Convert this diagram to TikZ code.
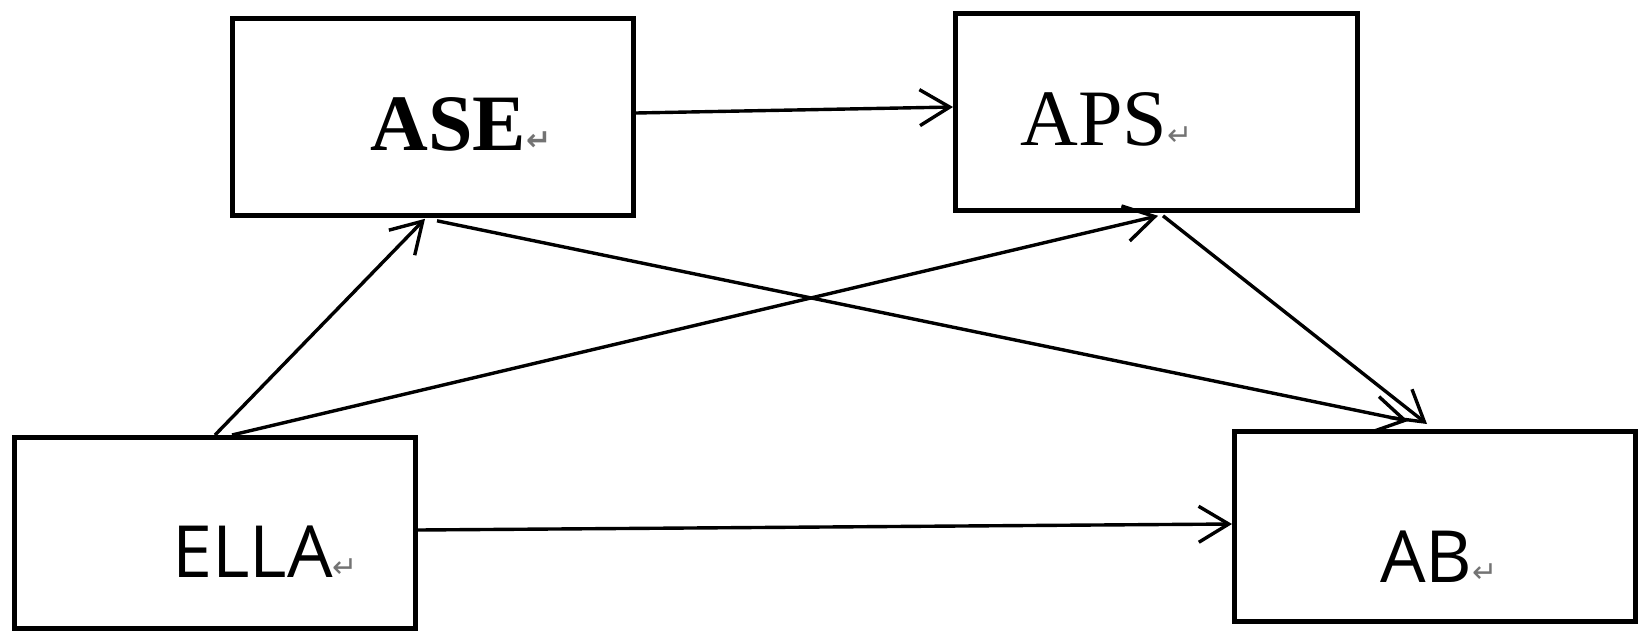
\documentclass[tikz,border=0pt]{standalone}
\usepackage{fontspec}
\setmainfont{Liberation Serif}
\newfontfamily\ellafont{Open Sans}
\newfontfamily\symfont{DejaVu Sans}
\usetikzlibrary{arrows.meta,calc}
\newcommand\retmark{{\fontsize{15}{15}\selectfont\symfont\color{black!55}↵}}
\begin{document}
\begin{tikzpicture}[x=0.5pt,y=-0.5pt,
  box/.style={draw, line width=2.4pt, rectangle, inner sep=0pt, anchor=north west},
  arr/.style={-{Straight Barb[length=15pt,width=18pt]}, line width=1.7pt},
  lbl/.style={inner sep=0pt, anchor=base west}]
\useasboundingbox (0,0) rectangle (1645,638);
% boxes
\node[box, minimum width=200.5pt, minimum height=98.5pt] (ASE) at (230,16) {};
\node[box, minimum width=201pt, minimum height=98.5pt] (APS) at (953,11) {};
\node[box, minimum width=200.5pt, minimum height=95.5pt] (ELLA) at (12,435) {};
\node[box, minimum width=200.5pt, minimum height=95pt] (AB) at (1232,429) {};
% labels
\node[lbl] (tASE) at (370,150) {\fontsize{40}{40}\selectfont\bfseries ASE\retmark};
\node[lbl] (tAPS) at (1020,145) {\fontsize{40}{40}\selectfont APS\retmark};
\node[lbl] (tELLA) at (172,577) {\fontsize{36}{36}\selectfont\ellafont ELLA\retmark};
\node[lbl] (tAB) at (1380,582) {\fontsize{36}{36}\selectfont\ellafont AB\retmark};
% connectors
\draw[arr] ($(ELLA.north west)+(203,0)$) -- ($(ASE.south west)+(195,1)$);
\draw[arr] ($(ELLA.north west)+(220,0)$) -- ($(APS.south west)+(205,3)$);
\draw[arr] ($(ASE.north east)+(0,97)$) -- ($(APS.north west)+(0,96)$);
\draw[arr] ($(ASE.south west)+(207,3)$) -- ($(AB.north west)+(176,-8)$);
\draw[arr] ($(APS.south west)+(210,3)$) -- ($(AB.north west)+(195,-5)$);
\draw[arr] ($(ELLA.north east)+(0,95)$) -- ($(AB.north west)+(0,95)$);
\end{tikzpicture}
\end{document}
